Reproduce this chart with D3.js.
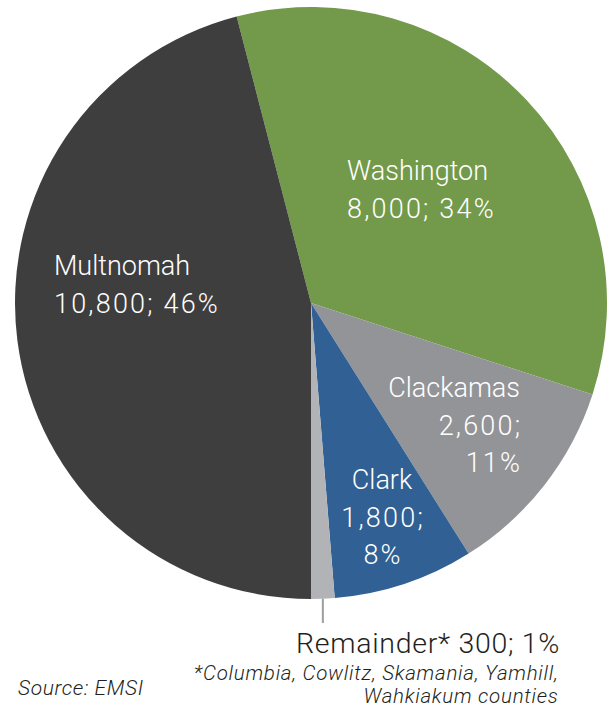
<!DOCTYPE html>
<html>
<head>
<meta charset="utf-8">
<script src="https://cdn.jsdelivr.net/npm/d3@7"></script>
<style>
  html, body { margin: 0; padding: 0; background: #fff; }
  svg { display: block; }
  text { font-family: Roboto, "Liberation Sans", sans-serif; }
</style>
</head>
<body>
<div id="chart"></div>
<script>
// ---- data ----
const counties = ["Washington", "Clackamas", "Clark", "Remainder*", "Multnomah"];
const jobs = [8000, 2600, 1800, 300, 10800];
const percents = ["34%", "11%", "8%", "1%", "46%"];
const colors = ["#739a4a", "#939497", "#306094", "#b2b3b6", "#3e3e3f"];
const footnoteLines = ["*Columbia, Cowlitz, Skamania, Yamhill,", "Wahkiakum counties"];
const sourceText = "Source: EMSI";

// ---- layout ----
const W = 607, H = 706;
const cx = 311, cy = 303, R = 296;
const startDeg = -14.55;
const fmt = d3.format(",");

const svg = d3.select("#chart").append("svg")
  .attr("width", W).attr("height", H);
svg.append("rect").attr("width", W).attr("height", H).attr("fill", "#fff");

const data = counties.map((c, i) => ({ name: c, value: jobs[i], pct: percents[i], color: colors[i] }));

const pie = d3.pie().value(d => d.value).sort(null)
  .startAngle(startDeg * Math.PI / 180)
  .endAngle(startDeg * Math.PI / 180 + 2 * Math.PI);
const arc = d3.arc().innerRadius(0).outerRadius(R);

const g = svg.append("g").attr("transform", `translate(${cx},${cy})`);
const arcs = pie(data);
g.selectAll("path.slice").data(arcs).enter().append("path")
  .attr("class", "slice")
  .attr("d", arc)
  .attr("fill", d => d.data.color);

// label placement (relative to pie centre)
const labelLayout = {
  "Washington": { dx: 36, dy: -123, anchor: "start", lines: d => [d.name, fmt(d.value) + "; " + d.pct] },
  "Multnomah": { dx: -257, dy: -28, anchor: "start", lines: d => [d.name, fmt(d.value) + "; " + d.pct] },
  "Clackamas": { dx: 209, dy: 94, anchor: "end", lines: d => [d.name, fmt(d.value) + ";", d.pct] },
  "Clark": { dx: 71, dy: 186, anchor: "middle", lines: d => [d.name, fmt(d.value) + ";", d.pct] }
};
const lh = 37.5;
arcs.forEach(a => {
  const L = labelLayout[a.data.name];
  if (!L) return;
  const t = g.append("text")
    .attr("x", L.dx).attr("y", L.dy)
    .attr("text-anchor", L.anchor)
    .attr("fill", "#fff")
    .attr("font-size", 27)
    .attr("font-weight", 300);
  L.lines(a.data).forEach((s, i) => {
    const sp = t.append("tspan").attr("dy", i === 0 ? 0 : lh).text(s);
    if (i > 0) {
      sp.attr("letter-spacing", 2.2)
        .attr("x", L.anchor === "end" ? L.dx + 2.2 : (L.anchor === "middle" ? L.dx + 1.1 : L.dx));
    } else {
      sp.attr("x", L.dx);
    }
  });
});

// remainder leader + label
const rem = arcs.find(a => a.data.name === "Remainder*");
const midA = (rem.startAngle + rem.endAngle) / 2;
const lx = Math.sin(midA) * R;
g.append("line")
  .attr("x1", lx).attr("x2", lx)
  .attr("y1", -Math.cos(midA) * R).attr("y2", 320)
  .attr("stroke", "#9d9ea0").attr("stroke-width", 2);
g.append("text")
  .attr("x", -15).attr("y", 350)
  .attr("fill", "#231f20").attr("font-size", 28.5).attr("font-weight", 300)
  .attr("letter-spacing", 0.7)
  .text(rem.data.name + " " + fmt(rem.data.value) + "; " + rem.data.pct);

// footnote
footnoteLines.forEach((s, i) => {
  svg.append("text")
    .attr("text-anchor", "end")
    .attr("x", 558.6).attr("y", 680 + i * 22.5)
    .attr("fill", "#231f20").attr("font-size", 20.5).attr("font-style", "italic").attr("font-weight", 300)
    .attr("letter-spacing", 0.75)
    .text(s);
});

svg.append("text")
  .attr("x", 18).attr("y", 695)
  .attr("fill", "#231f20").attr("font-size", 21).attr("font-style", "italic").attr("font-weight", 300)
  .attr("letter-spacing", 0.6)
  .text(sourceText);
</script>
</body>
</html>
